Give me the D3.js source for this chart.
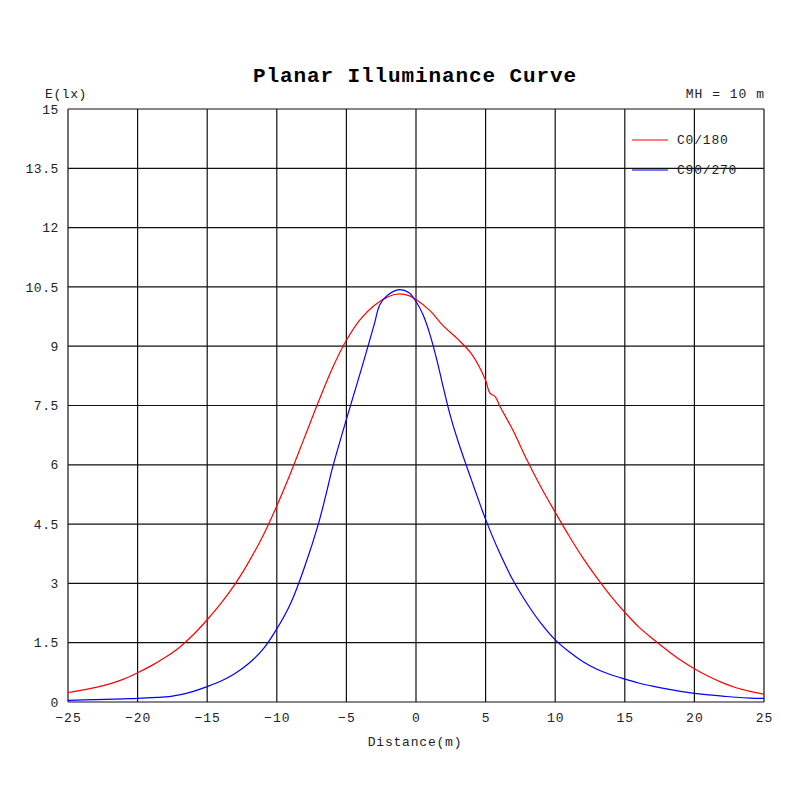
<!DOCTYPE html>
<html>
<head>
<meta charset="utf-8">
<script src="https://cdn.jsdelivr.net/npm/d3@7"></script>
<style>
  body { margin: 0; background: #fff; }
  text { font-family: "Liberation Mono", "DejaVu Sans Mono", monospace; }
</style>
</head>
<body>
<div id="chart"></div>
<script>
const width = 800, height = 800;
const margin = {top: 109, right: 36, bottom: 98, left: 68};

const xTicks = [-25, -20, -15, -10, -5, 0, 5, 10, 15, 20, 25];
const yTicks = [0, 1.5, 3, 4.5, 6, 7.5, 9, 10.5, 12, 13.5, 15];
const yTickLabels = ["0", "1.5", "3", "4.5", "6", "7.5", "9", "10.5", "12", "13.5", "15"];

// C0/180
const redX = [-25, -24, -23, -22, -21, -20, -19, -18, -17, -16, -15, -14, -13, -12, -11, -10, -9, -8, -7, -6, -5, -4, -3, -2, -1.3, -0.5, 0, 1, 2, 3, 4, 5, 5.3, 5.7, 6, 7, 8, 9, 10, 11, 12, 13, 14, 15, 16, 17, 18, 19, 20, 21, 22, 23, 24, 25];
const redY = [0.24, 0.30, 0.37, 0.46, 0.58, 0.74, 0.92, 1.13, 1.38, 1.70, 2.08, 2.50, 2.98, 3.55, 4.2, 4.96, 5.8, 6.7, 7.6, 8.45, 9.15, 9.68, 10.03, 10.25, 10.32, 10.28, 10.18, 9.9, 9.5, 9.18, 8.8, 8.14, 7.82, 7.72, 7.5, 6.85, 6.1, 5.42, 4.8, 4.2, 3.64, 3.14, 2.68, 2.27, 1.9, 1.6, 1.32, 1.06, 0.84, 0.65, 0.49, 0.36, 0.27, 0.2];

// C90/270
const blueX = [-25, -23, -21, -20, -19, -18, -17.5, -17, -16, -15, -14, -13, -12, -11, -10, -9, -8, -7, -6.5, -6, -5, -4, -3, -2.6, -2, -1.2, -0.5, 0, 0.5, 1, 1.5, 2, 2.5, 3, 3.5, 4, 4.5, 5, 6, 7, 8, 9, 10, 11, 12, 13, 14, 15, 16, 17, 18, 19, 20, 21, 22, 23, 24, 25];
const blueY = [0.04, 0.06, 0.08, 0.09, 0.11, 0.13, 0.15, 0.18, 0.27, 0.39, 0.53, 0.72, 0.98, 1.33, 1.85, 2.5, 3.42, 4.52, 5.2, 5.92, 7.15, 8.33, 9.55, 10.05, 10.3, 10.43, 10.35, 10.13, 9.8, 9.3, 8.65, 7.9, 7.2, 6.62, 6.1, 5.6, 5.1, 4.62, 3.78, 3.06, 2.48, 1.98, 1.57, 1.27, 1.02, 0.83, 0.69, 0.58, 0.48, 0.4, 0.33, 0.27, 0.22, 0.18, 0.15, 0.12, 0.1, 0.09];

const series = [
  {name: "C0/180", color: "#ff0000", pts: redX.map((x, i) => [x, redY[i]])},
  {name: "C90/270", color: "#0000ff", pts: blueX.map((x, i) => [x, blueY[i]])}
];

const x = d3.scaleLinear().domain([-25, 25]).range([margin.left, width - margin.right]);
const y = d3.scaleLinear().domain([0, 15]).range([height - margin.bottom, margin.top]);

const svg = d3.select("#chart").append("svg")
  .attr("width", width)
  .attr("height", height);

// grid
svg.append("g")
  .selectAll("line")
  .data(xTicks)
  .join("line")
  .attr("x1", d => x(d)).attr("x2", d => x(d))
  .attr("y1", y(0)).attr("y2", y(15))
  .attr("stroke", "#111").attr("stroke-width", 1.2);

svg.append("g")
  .selectAll("line")
  .data(yTicks)
  .join("line")
  .attr("x1", x(-25)).attr("x2", x(25))
  .attr("y1", d => y(d)).attr("y2", d => y(d))
  .attr("stroke", "#111").attr("stroke-width", 1.2);

// tick labels
const yAxis = d3.axisLeft(y).tickValues(yTicks).tickFormat((d, i) => yTickLabels[i]).tickSize(0).tickPadding(9);
const gy = svg.append("g").attr("transform", `translate(${margin.left},0)`).call(yAxis);
gy.select(".domain").remove();
gy.selectAll("text").attr("font-size", 13).attr("fill", "#222")
  .style("letter-spacing", "0.6px")
  .style("font-family", "Liberation Mono, monospace");

const xAxis = d3.axisBottom(x).tickValues(xTicks).tickSize(0).tickPadding(11);
const gx = svg.append("g").attr("transform", `translate(0,${y(0)})`).call(xAxis);
gx.select(".domain").remove();
gx.selectAll("text").attr("font-size", 13).attr("fill", "#222")
  .style("letter-spacing", "1px")
  .style("font-family", "Liberation Mono, monospace");

// curves
const line = d3.line()
  .x(d => x(d[0]))
  .y(d => y(d[1]))
  .curve(d3.curveCatmullRom.alpha(0.5));

svg.append("g")
  .selectAll("path")
  .data(series)
  .join("path")
  .attr("d", d => line(d.pts))
  .attr("fill", "none")
  .attr("stroke", d => d.color)
  .attr("stroke-width", 1.2);

// legend
const legend = svg.append("g")
  .selectAll("g")
  .data(series)
  .join("g")
  .attr("transform", (d, i) => `translate(632,${140 + i * 30})`);
legend.append("line")
  .attr("x1", 0).attr("x2", 36)
  .attr("stroke", d => d.color)
  .attr("stroke-width", (d, i) => i ? 1.6 : 1.2)
  .attr("stroke-opacity", (d, i) => i ? 0.7 : 1);
legend.append("text")
  .attr("x", 45).attr("y", 4)
  .attr("font-size", 13).attr("fill", "#222")
  .style("letter-spacing", "0.8px")
  .text(d => d.name);

// titles
svg.append("text")
  .attr("x", 415).attr("y", 82)
  .attr("text-anchor", "middle")
  .attr("font-size", 21).attr("font-weight", "bold")
  .attr("fill", "#000")
  .style("letter-spacing", "0.9px")
  .text("Planar Illuminance Curve");

svg.append("text")
  .attr("x", 45).attr("y", 98)
  .attr("font-size", 13).attr("fill", "#222")
  .style("letter-spacing", "0.6px")
  .text("E(lx)");

svg.append("text")
  .attr("x", x(25) + 1).attr("y", 98)
  .attr("text-anchor", "end")
  .attr("font-size", 13).attr("fill", "#222")
  .style("letter-spacing", "1px")
  .text("MH = 10 m");

svg.append("text")
  .attr("x", 415).attr("y", 746)
  .attr("text-anchor", "middle")
  .attr("font-size", 13).attr("fill", "#222")
  .style("letter-spacing", "0.8px")
  .text("Distance(m)");
</script>
</body>
</html>
